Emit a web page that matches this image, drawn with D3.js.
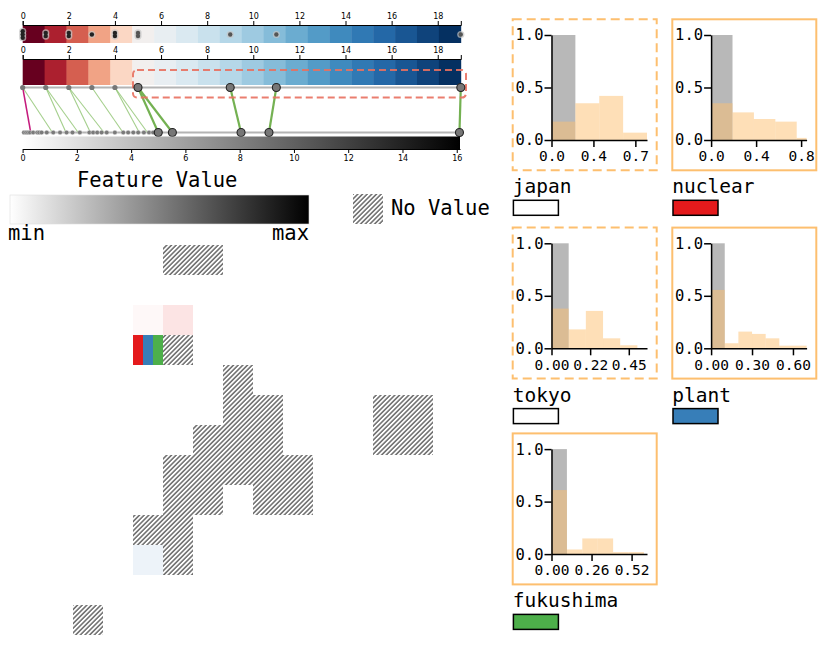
<!DOCTYPE html>
<html><head><meta charset="utf-8">
<script src="https://cdn.jsdelivr.net/npm/d3@7/dist/d3.min.js"></script>
<style>body{margin:0;background:#fff}svg{display:block}</style>
</head><body>
<svg id="c" width="831" height="647"></svg>
<script>
// ---------------- data ----------------
const colorBins = [0,1,2,3,4,5,6,7,8,9,10,11,12,13,14,15,16,17,18,19];
const colorDomain = [0, 5, 19];
const topTicks = [0,2,4,6,8,10,12,14,16,18];
const bottomTicks = [0,2,4,6,8,10,12,14,16];
const bottomMax = 16.12;
const topValues = [0,1,2,3,4,5,9,11,19];
const topStack = [3,2,2,1,2,2,1,1,1];
const highlightFrom = 5;
const bottomSmall = [0.05,0.13,0.2,0.27,0.39,0.54,0.61,0.7,0.89,1.13,1.38,1.62,1.84,2.11,2.46,2.6,2.75,2.91,3.1,3.4,3.71,3.89,4.08,4.26,4.47,4.66,4.81];
const bottomLarge = [5.0,5.52,8.05,9.08,16.1];
const linkFrom = [0,0,1,1,2,2,3,4,4, 5,5,9,11,19];
const linkTo   = [0.3,1.1,1.6,2.05,2.5,3.0,3.7,4.3,4.6, 5.0,5.52,8.05,9.08,16.1];
const linkNeg  = [true,false,false,false,false,false,false,false,false,false,false,false,false,false];

const gridNoValue = [[0,3],[0,4],[3,3],[4,5],[5,5],[5,6],[5,10],[5,11],[6,4],[6,5],[6,6],[6,10],[6,11],
  [7,3],[7,4],[7,5],[7,6],[7,7],[8,3],[8,4],[8,6],[8,7],[9,2],[9,3],[10,3],[12,0]];
const gridValued = [[2,2,-0.03],[2,3,-0.12],[10,2,0.09]];
const gridStripe = [3,2];
const stripeWords = ["nuclear","plant","fukushima"];

const histNames = ["japan","nuclear","tokyo","plant","fukushima"];
const histSwatch = ["#ffffff","#e41a1c","#ffffff","#377eb8","#4daf4a"];
const histDashed = [true,false,true,false,false];
const histXMax = [0.82,0.87,0.556,0.70,0.62];
const histTickMax = [0.72,0.82,0.45,0.60,0.52];
const histTickLabels = [["0.0","0.4","0.7"],["0.0","0.4","0.8"],["0.00","0.22","0.45"],["0.00","0.30","0.60"],["0.00","0.26","0.52"]];
const histEdges = [[0,0.205,0.41,0.615,0.82],[0,0.195,0.39,0.585,0.78,0.87],[0,0.1,0.2,0.3,0.4,0.5],
  [0,0.1,0.2,0.3,0.4,0.5,0.6,0.7],[0,0.1,0.2,0.3,0.4,0.5,0.6]];
const histValues = [[0.175,0.35,0.42,0.07],[0.35,0.263,0.2,0.175,0.02],[0.378,0.18,0.356,0.095,0.029],
  [0.556,0.048,0.159,0.137,0.095,0.025,0.025],[0.61,0.044,0.149,0.149,0.019,0.019]];
const histBase = [1,1,1,1,1];
const yTicks = [0,0.5,1];

// ---------------- drawing ----------------
const svg = d3.select("#c");
const MONO = "DejaVu Sans Mono, monospace";
const SANS = "DejaVu Sans, sans-serif";
const defs = svg.append("defs");

const hatch = defs.append("pattern").attr("id","hatch").attr("patternUnits","userSpaceOnUse")
  .attr("width",3.3).attr("height",10).attr("patternTransform","rotate(45)");
hatch.append("rect").attr("width",3.3).attr("height",10).attr("fill","#fff");
hatch.append("line").attr("x1",0.9).attr("x2",0.9).attr("y1",0).attr("y2",10).attr("stroke","#6a6a6a").attr("stroke-width",1.5);

const gGrad = defs.append("linearGradient").attr("id","gray");
gGrad.append("stop").attr("offset","0%").attr("stop-color","#fff");
gGrad.append("stop").attr("offset","100%").attr("stop-color","#000");

const color = d3.scaleDiverging(colorDomain, d3.interpolateRdBu);
const xTop = d3.scaleLinear([0,19],[22.7,460.8]);
const xBot = d3.scaleLinear([0,bottomMax],[22.6,460]);
const cellW = (xTop.range()[1]-xTop.range()[0]) / colorBins.length;

function styleAxis(g, size){
  g.selectAll("text").attr("font-family",SANS).attr("font-size",size).attr("fill","#000");
  g.selectAll("line,path").attr("stroke","#000");
}

// bar 1
svg.append("g").selectAll("rect").data(colorBins).join("rect")
  .attr("x",d=>xTop(0)+d*cellW).attr("y",25).attr("width",cellW+0.4).attr("height",18)
  .attr("fill",d=>color(d));
svg.append("g").attr("transform","translate(0,25)")
  .call(d3.axisTop(xTop).tickValues(topTicks).tickSize(4).tickPadding(2))
  .call(g=>styleAxis(g,8));
// stacked points on bar 1
topValues.forEach((v,i)=>{
  const n = topStack[i];
  for(let k=0;k<n;k++){
    const cy = 34.5 + (k-(n-1)/2)*3.2;
    svg.append("circle").attr("cx",xTop(v)).attr("cy",cy).attr("r",3.6)
      .attr("fill","#c4c4c4").attr("fill-opacity",0.7);
  }
  for(let k=0;k<n;k++){
    const cy = 34.5 + (k-(n-1)/2)*3.2;
    svg.append("circle").attr("cx",xTop(v)).attr("cy",cy).attr("r",2.2)
      .attr("fill", v>=highlightFrom ? "#555" : "#222");
  }
});

// bar 2
svg.append("g").selectAll("rect").data(colorBins).join("rect")
  .attr("x",d=>xTop(0)+d*cellW).attr("y",59).attr("width",cellW+0.4).attr("height",26)
  .attr("fill",d=>color(d));
svg.append("g").attr("transform","translate(0,59)")
  .call(d3.axisTop(xTop).tickValues(topTicks).tickSize(4).tickPadding(2))
  .call(g=>styleAxis(g,8));

// lines
const yL1 = 87.5, yL2 = 132.5;
svg.append("line").attr("x1",xTop(0)).attr("x2",xTop(19)).attr("y1",yL1).attr("y2",yL1)
  .attr("stroke","#b4b4b4").attr("stroke-width",2.2);
svg.append("line").attr("x1",xBot(0)).attr("x2",xBot(bottomMax)).attr("y1",yL2).attr("y2",yL2)
  .attr("stroke","#b4b4b4").attr("stroke-width",2.2);

// links
linkFrom.forEach((f,i)=>{
  const strong = f>=highlightFrom;
  svg.append("line").attr("x1",xTop(f)).attr("y1",yL1).attr("x2",xBot(linkTo[i])).attr("y2",yL2)
    .attr("stroke", linkNeg[i] ? "#c51b7d" : (strong ? "#74b152" : "#86bf66"))
    .attr("stroke-width", strong ? 2.2 : (linkNeg[i]?1.5:1.1))
    .attr("stroke-opacity", strong||linkNeg[i] ? 1 : 0.75);
});

// dashed highlight box
svg.append("rect").attr("x",133).attr("y",70).attr("width",333).attr("height",27.5).attr("rx",4)
  .attr("fill","none").attr("stroke","#e8705f").attr("stroke-opacity",0.9).attr("stroke-width",2)
  .attr("stroke-dasharray","7,4");

// points on lines
svg.append("g").selectAll("circle").data(topValues).join("circle")
  .attr("cx",d=>xTop(d)).attr("cy",yL1).attr("r",d=>d>=highlightFrom?4:2.6)
  .attr("fill","#777").attr("stroke",d=>d>=highlightFrom?"#222":"none").attr("stroke-width",1.1);
svg.append("g").selectAll("circle").data(bottomSmall).join("circle")
  .attr("cx",d=>xBot(d)).attr("cy",yL2).attr("r",2.3).attr("fill","#7a7a7a")
  .attr("stroke","#fff").attr("stroke-opacity",0.6).attr("stroke-width",0.6);
svg.append("g").selectAll("circle").data(bottomLarge).join("circle")
  .attr("cx",d=>xBot(d)).attr("cy",yL2).attr("r",4).attr("fill","#777").attr("stroke","#222").attr("stroke-width",1.1);

// gray gradient bar + axis
svg.append("rect").attr("x",xBot(0)).attr("y",136.5).attr("width",xBot(bottomMax)-xBot(0)).attr("height",12.5)
  .attr("fill","url(#gray)");
svg.append("g").attr("transform","translate(0,149)")
  .call(d3.axisBottom(xBot).tickValues(bottomTicks).tickSize(4).tickPadding(2).tickSizeOuter(0))
  .call(g=>styleAxis(g,8));

// legend
svg.append("text").attr("x",77).attr("y",187).attr("font-family",MONO).attr("font-size",20.5).text("Feature Value");
svg.append("rect").attr("x",10).attr("y",195).attr("width",299).attr("height",29)
  .attr("fill","url(#gray)").attr("stroke","#ddd").attr("stroke-width",0.6);
svg.append("text").attr("x",8).attr("y",239.5).attr("font-family",MONO).attr("font-size",20.5).text("min");
svg.append("text").attr("x",309).attr("y",239.5).attr("text-anchor","end").attr("font-family",MONO).attr("font-size",20.5).text("max");
svg.append("rect").attr("x",353).attr("y",194).attr("width",30).attr("height",30).attr("fill","url(#hatch)");
svg.append("text").attr("x",391).attr("y",215).attr("font-family",MONO).attr("font-size",20.5).text("No Value");

// grid
const gx = d3.scaleLinear([0,12],[73,433]);
const gy = d3.scaleLinear([0,13],[245,635]);
const cellColor = d3.scaleLinear([-1,0,1],["#e41a1c","#ffffff","#377eb8"]);
svg.append("g").selectAll("rect").data(gridNoValue).join("rect")
  .attr("x",d=>gx(d[1])).attr("y",d=>gy(d[0])).attr("width",gx(1)-gx(0)).attr("height",gy(1)-gy(0))
  .attr("fill","url(#hatch)");
svg.append("g").selectAll("rect").data(gridValued).join("rect")
  .attr("x",d=>gx(d[1])).attr("y",d=>gy(d[0])).attr("width",gx(1)-gx(0)).attr("height",gy(1)-gy(0))
  .attr("fill",d=>cellColor(d[2]));
const sw = (gx(1)-gx(0))/stripeWords.length;
svg.append("g").selectAll("rect").data(stripeWords).join("rect")
  .attr("x",(d,i)=>gx(gridStripe[1])+i*sw).attr("y",gy(gridStripe[0])).attr("width",sw).attr("height",gy(1)-gy(0))
  .attr("fill",d=>histSwatch[histNames.indexOf(d)]);

// histograms
const colX = [512.7, 672.3];
const rowY = [19.3, 227.6, 433.4];
histNames.forEach((name,i)=>{
  const bx = colX[i%2], by = rowY[Math.floor(i/2)];
  const g = svg.append("g");
  g.append("rect").attr("x",bx).attr("y",by).attr("width",144).attr("height",151)
    .attr("fill","none").attr("stroke","#fdbf6f").attr("stroke-width",2)
    .attr("stroke-dasharray",histDashed[i]?"9,5":null);
  const x0 = bx+38.8, x1 = x0+95.5, yT = by+15.7, yB = by+120.7;
  const x = d3.scaleLinear([0,histXMax[i]],[x0,x1]);
  const y = d3.scaleLinear([0,1],[yB,yT]);
  const e = histEdges[i];
  g.append("rect").attr("x",x(e[0])).attr("y",y(histBase[i])).attr("width",x(e[1])-x(e[0])).attr("height",yB-y(histBase[i]))
    .attr("fill","#b8b8b8");
  g.append("g").selectAll("rect").data(histValues[i]).join("rect")
    .attr("x",(d,j)=>x(e[j])).attr("y",d=>y(d)).attr("width",(d,j)=>x(e[j+1])-x(e[j])).attr("height",d=>yB-y(d))
    .attr("fill","#fdbf6f").attr("fill-opacity",0.5);
  const tv = [0, histTickMax[i]/2, histTickMax[i]];
  const ax = g.append("g").attr("transform",`translate(0,${yB})`)
    .call(d3.axisBottom(x).tickValues(tv).tickFormat((d,k)=>histTickLabels[i][k]).tickSize(7).tickPadding(4).tickSizeOuter(0));
  const ay = g.append("g").attr("transform",`translate(${x0},0)`)
    .call(d3.axisLeft(y).tickValues(yTicks).tickFormat(d3.format(".1f")).tickSize(7).tickPadding(1).tickSizeOuter(0));
  [ax,ay].forEach(a=>{
    a.selectAll("text").attr("font-family",MONO).attr("font-size",14.5).attr("fill","#000");
    a.selectAll("line,path").attr("stroke","#000").attr("stroke-width",1.5);
  });
  ay.selectAll("text").attr("font-size",15.5);
  g.append("text").attr("x",bx).attr("y",by+174).attr("font-family",MONO).attr("font-size",19.5).text(name);
  g.append("rect").attr("x",bx+0.7).attr("y",by+181).attr("width",45).attr("height",15)
    .attr("fill",histSwatch[i]).attr("stroke","#000").attr("stroke-width",1.5);
});
</script>
</body></html>
